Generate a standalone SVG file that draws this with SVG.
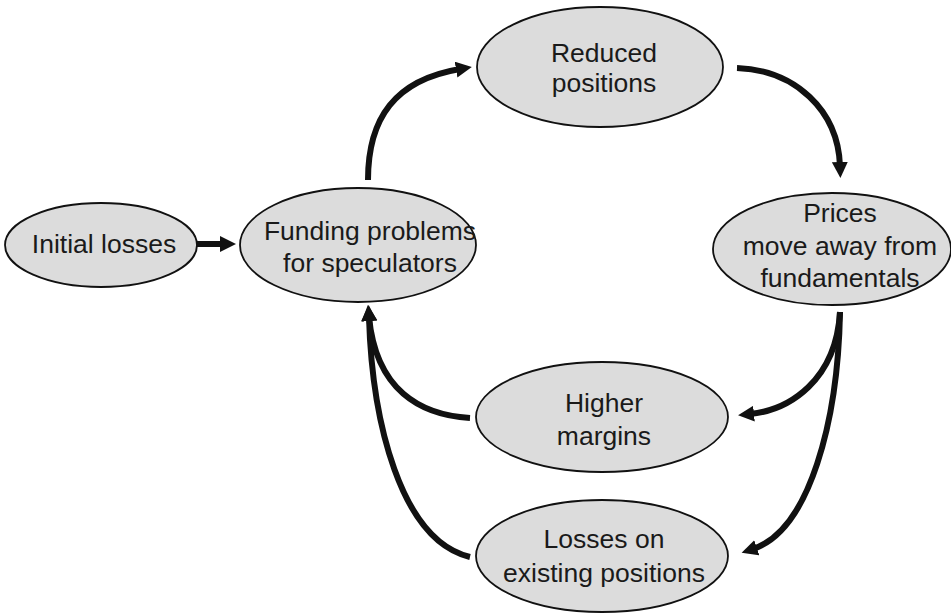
<svg xmlns="http://www.w3.org/2000/svg" width="951" height="613" viewBox="0 0 951 613">
<style>
  .node ellipse { fill: #dcdcdc; stroke: #111; stroke-width: 1.8; }
  .node text { font-family: "Liberation Sans", Arial, sans-serif; font-size: 26.5px; fill: #1a1a1a; text-anchor: middle; }
  .conn path { fill: none; stroke: #111; stroke-width: 6; stroke-linecap: butt; marker-end: url(#arrow); }
</style>
<defs>
  <marker id="arrow" markerUnits="userSpaceOnUse" markerWidth="17" markerHeight="17" refX="4" refY="8" orient="auto">
    <path d="M0,0 L16,8 L0,16 z" fill="#111"/>
  </marker>
</defs>
<rect width="951" height="613" fill="#ffffff"/>
<g class="conn" id="connectors">
  <path d="M197,244 L224,244"/>
  <path d="M368,180 C368,118 395,80 460,69"/>
  <path d="M737,68 C795,70 838,110 840,166"/>
  <path d="M840,312 C836,380 790,410 750,414"/>
  <path d="M840,312 C838,420 810,530 753,549"/>
  <path d="M470,418 C420,415 376,390 369,317"/>
  <path d="M470,557 C400,540 372,420 369,317"/>
</g>
<g class="node" id="initial-losses">
  <ellipse cx="101" cy="245" rx="96" ry="42"/>
  <text x="104" y="252.5">Initial losses</text>
</g>
<g class="node" id="funding-problems">
  <ellipse cx="358" cy="245" rx="118" ry="57"/>
  <text x="370" y="240">Funding problems</text>
  <text x="370" y="271.5">for speculators</text>
</g>
<g class="node" id="reduced-positions">
  <ellipse cx="600" cy="67" rx="123" ry="60"/>
  <text x="604" y="61.5">Reduced</text>
  <text x="604" y="92">positions</text>
</g>
<g class="node" id="prices">
  <ellipse cx="832" cy="249" rx="119" ry="56"/>
  <text x="840" y="221.5">Prices</text>
  <text x="840" y="254.5">move away from</text>
  <text x="840" y="287">fundamentals</text>
</g>
<g class="node" id="higher-margins">
  <ellipse cx="602" cy="417" rx="126" ry="55"/>
  <text x="604" y="411.5">Higher</text>
  <text x="604" y="445">margins</text>
</g>
<g class="node" id="losses-existing">
  <ellipse cx="602" cy="556" rx="126" ry="56"/>
  <text x="604" y="548">Losses on</text>
  <text x="604" y="581.5">existing positions</text>
</g>
</svg>
